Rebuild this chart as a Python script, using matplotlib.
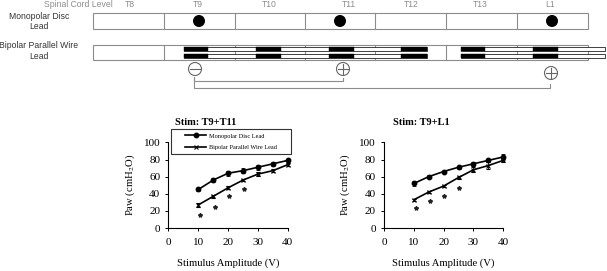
import matplotlib
matplotlib.use("Agg")
import matplotlib.pyplot as plt
from matplotlib.lines import Line2D
from matplotlib.patches import Rectangle, Circle

W, H = 607, 271

# Data
volts = [10, 15, 20, 25, 30, 35, 40]
mono_t11 = [45, 56, 64, 67, 71, 75, 79]
mono_t11_err = [2, 2, 3, 3, 3, 2, 2]
wire_t11 = [27, 37, 47, 56, 63, 67, 74]
wire_t11_err = [2, 2, 2, 1, 2, 2, 2]
stars_t11_x = [10.5, 15.5, 20.2, 25.2]
stars_t11_y = [15, 25, 37, 46]

mono_l1 = [52, 60, 66, 71, 75, 79, 83]
mono_l1_err = [3, 2, 2, 2, 2, 2, 3]
wire_l1 = [33, 42, 49, 59, 68, 73, 79]
wire_l1_err = [1, 1, 1, 2, 3, 4, 2]
stars_l1_x = [10.8, 15.5, 20, 25.2]
stars_l1_y = [23, 31, 37, 47]

level_names = ["T8", "T9", "T10", "T11", "T12", "T13", "L1"]
level_x = [130, 198, 269, 349, 411, 480, 550]
dividers = [164, 235, 305, 375, 446, 517]
disc_x = [199, 340, 552]
wire_runs = [(184, 427), (461, 605)]
wire_blacks = [(184, 208), (256, 281), (329, 354), (401, 427), (461, 485), (533, 558)]

plt.rcParams["font.family"] = ["Liberation Serif", "DejaVu Serif"]
plt.rcParams["mathtext.fontset"] = "stix"

fig = plt.figure(figsize=(W / 100, H / 100), dpi=100)

# Schematic on top, drawn in pixel coordinates
sk = fig.add_axes([0, 0, 1, 1])
sk.set_xlim(0, W)
sk.set_ylim(H, 0)
sk.axis("off")

gray = "#8c8c8c"
sans = "Liberation Sans"
sk.text(78, 4.5, "Spinal Cord Level", color=gray, family=sans, fontsize=6.2, ha="center", va="center")
for name, x in zip(level_names, level_x):
    sk.text(x, 4.5, name, color=gray, family=sans, fontsize=6.2, ha="center", va="center")
sk.text(39, 21.5, "Monopolar Disc\nLead", color="#333333", family=sans, fontsize=6.2, ha="center", va="center", linespacing=1.15)
sk.text(39, 51, "Bipolar Parallel Wire\nLead", color="#333333", family=sans, fontsize=6.2, ha="center", va="center", linespacing=1.15)

for top, bottom in [(13, 29), (45, 60)]:
    sk.add_patch(Rectangle((93, top), 495, bottom - top, fc="white", ec=gray, lw=0.8))
    for x in dividers:
        sk.plot([x, x], [top, bottom], color=gray, lw=0.8)

for x in disc_x:
    sk.add_patch(Circle((x, 21), 6, fc="black", ec="none", zorder=3))

for y0, y1 in [(47, 51), (54, 58)]:
    for x0, x1 in wire_runs:
        sk.add_patch(Rectangle((x0, y0), x1 - x0, y1 - y0, fc="white", ec="#222222", lw=0.6, zorder=3))
    for x0, x1 in wire_blacks:
        sk.add_patch(Rectangle((x0, y0), x1 - x0, y1 - y0, fc="black", ec="black", lw=0.3, zorder=4))

# Polarity markers and connecting brackets
for x, y, sign in [(195, 69, "-"), (343, 69, "+"), (551, 73, "+")]:
    sk.add_patch(Circle((x, y), 6.5, fc="white", ec="#666666", lw=0.8))
    sk.plot([x - 5, x + 5], [y, y], color="#666666", lw=0.8)
    if sign == "+":
        sk.plot([x, x], [y - 5, y + 5], color="#666666", lw=0.8)
sk.plot([194, 194, 343, 343], [77, 81, 81, 78], color=gray, lw=0.8)
sk.plot([194, 194, 550, 550], [78, 88, 88, 84], color=gray, lw=0.8)

# Legend box of the left panel
sk.add_patch(Rectangle((171, 129), 120, 25, fc="white", ec="#333333", lw=0.8))


def panel(x0, title, title_x, mono, mono_err, wire, wire_err, star_x, star_y):
    # x0 is the pixel position of 0 V, y runs from pixel 228 up to pixel 142
    ax = fig.add_axes([x0 / W, 1 - 228 / H, 119.3 / W, 85.6 / H])
    ax.patch.set_alpha(0)
    ax.set_xlim(0, 40)
    ax.set_ylim(0, 100)
    ax.spines["top"].set_visible(False)
    ax.spines["right"].set_visible(False)
    ax.spines["left"].set_linewidth(0.8)
    ax.spines["bottom"].set_linewidth(0.8)
    ax.set_xticks(range(0, 41, 10))
    ax.set_yticks(range(0, 101, 20))
    ax.tick_params(labelsize=8, length=2.5, width=0.7, direction="out", pad=3.5)
    ax.tick_params(axis="x", pad=5)
    ax.errorbar(volts, mono, yerr=mono_err, color="black", marker="o", ms=3.2, lw=1.2,
                capsize=1.5, elinewidth=0.6, capthick=0.6, clip_on=False)
    ax.errorbar(volts, wire, yerr=wire_err, color="black", marker="x", ms=2.5, mew=0.8, lw=1.2,
                capsize=1.5, elinewidth=0.6, capthick=0.6, clip_on=False)
    ax.plot(star_x, star_y, ls="none", marker="*", ms=3, color="#222222")
    ax.set_xlabel("Stimulus Amplitude (V)", fontsize=7.7, labelpad=8)
    ax.set_ylabel("Paw (cmH$_2$O)", fontsize=7.7, labelpad=5)
    fig.text(title_x / W, 1 - 122.5 / H, title, fontsize=7.5, fontweight="bold", ha="center", va="center")
    return ax


ax1 = panel(168.5, "Stim: T9+T11", 206, mono_t11, mono_t11_err, wire_t11, wire_t11_err, stars_t11_x, stars_t11_y)
panel(384, "Stim: T9+L1", 421, mono_l1, mono_l1_err, wire_l1, wire_l1_err, stars_l1_x, stars_l1_y)

handles = [
    Line2D([], [], color="black", marker="o", ms=3.2, lw=1.2, label="Monopolar Disc Lead"),
    Line2D([], [], color="black", marker="x", ms=2.5, mew=0.8, lw=1.2, label="Bipolar Parallel Wire Lead"),
]
ax1.legend(handles=handles, loc="center", fontsize=4.5, frameon=False, borderaxespad=0, borderpad=0,
           handlelength=3.4, handletextpad=0.4, labelspacing=0.95,
           bbox_to_anchor=(231 / W, 1 - 141.5 / H), bbox_transform=fig.transFigure)

fig.savefig("out.png", dpi=100)
